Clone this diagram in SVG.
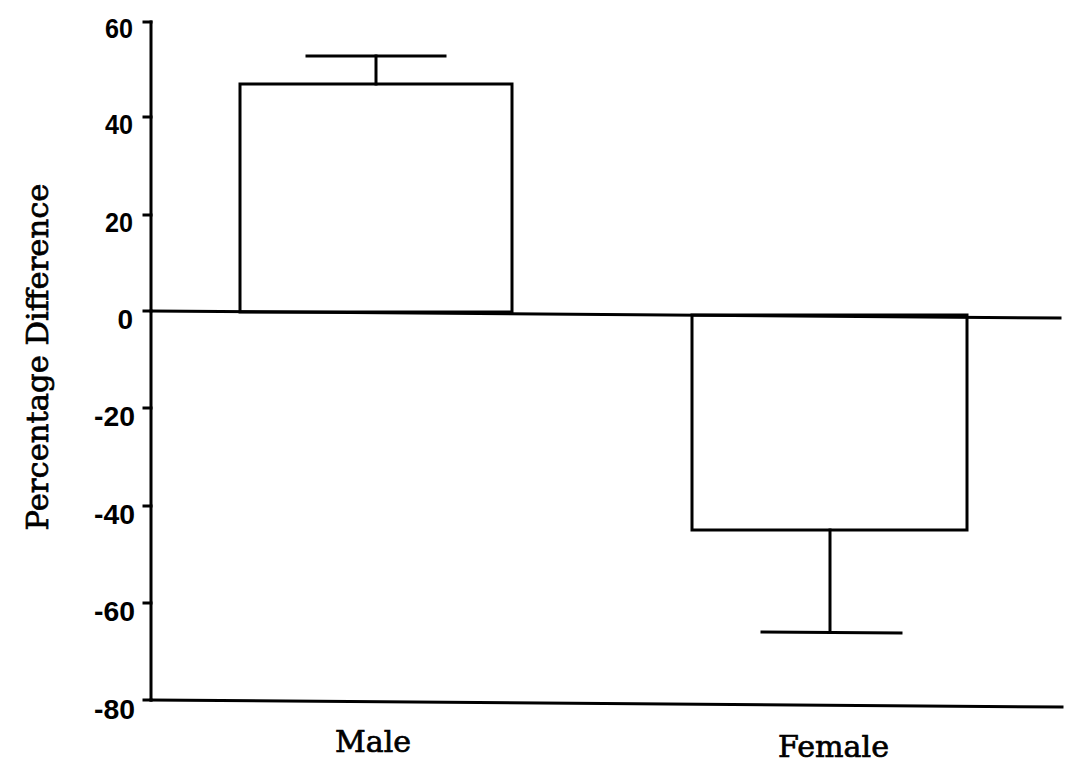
<svg xmlns="http://www.w3.org/2000/svg" width="1071" height="771" viewBox="0 0 1071 771">
<style>
.ln{stroke:#000;stroke-width:3;fill:none;stroke-linecap:square}
.bar{stroke:#000;stroke-width:3;fill:#fff}
.tk{font-family:"Liberation Sans",Arial,sans-serif;font-weight:bold;font-size:28px;fill:#000;text-anchor:end}
.lab{font-family:"DejaVu Serif","Liberation Serif",serif;font-size:30px;fill:#000;stroke:#000;stroke-width:0.7}
</style>
<rect width="1071" height="771" fill="#fff"/>
<g id="axes">
<line class="ln" x1="151" y1="22" x2="151" y2="700"/>
<line class="ln" x1="151" y1="700" x2="1062" y2="707"/>
<g id="ticks">
<line class="ln" x1="144" y1="22" x2="151" y2="22"/>
<line class="ln" x1="144" y1="117" x2="151" y2="117"/>
<line class="ln" x1="144" y1="215" x2="151" y2="215"/>
<line class="ln" x1="144" y1="311" x2="151" y2="311"/>
<line class="ln" x1="144" y1="408" x2="151" y2="408"/>
<line class="ln" x1="144" y1="506" x2="151" y2="506"/>
<line class="ln" x1="144" y1="603" x2="151" y2="603"/>
<line class="ln" x1="144" y1="700" x2="151" y2="700"/>
</g>
<g id="ticklabels">
<text class="tk" x="133" y="38" textLength="28" lengthAdjust="spacingAndGlyphs">60</text>
<text class="tk" x="133" y="134" textLength="28" lengthAdjust="spacingAndGlyphs">40</text>
<text class="tk" x="133" y="232" textLength="28" lengthAdjust="spacingAndGlyphs">20</text>
<text class="tk" x="133" y="329">0</text>
<text class="tk" x="135" y="426" textLength="41" lengthAdjust="spacingAndGlyphs">-20</text>
<text class="tk" x="135" y="524" textLength="41" lengthAdjust="spacingAndGlyphs">-40</text>
<text class="tk" x="135" y="621" textLength="41" lengthAdjust="spacingAndGlyphs">-60</text>
<text class="tk" x="135" y="719" textLength="41" lengthAdjust="spacingAndGlyphs">-80</text>
</g>
<text class="lab" transform="translate(48,357) rotate(-90)" text-anchor="middle" font-size="27" stroke-width="0.4" textLength="347" lengthAdjust="spacingAndGlyphs">Percentage Difference</text>
</g>
<g id="male">
<rect class="bar" x="240" y="84" width="272" height="228"/>
<line class="ln" x1="376" y1="84" x2="376" y2="56"/>
<line class="ln" x1="307" y1="56" x2="445" y2="56"/>
<text class="lab" x="335" y="752" textLength="76" lengthAdjust="spacingAndGlyphs">Male</text>
</g>
<g id="female">
<rect class="bar" x="692" y="315" width="275" height="215"/>
<line class="ln" x1="830" y1="530" x2="830" y2="632"/>
<line class="ln" x1="762" y1="632" x2="901" y2="633"/>
<text class="lab" x="778" y="757" textLength="111" lengthAdjust="spacingAndGlyphs">Female</text>
</g>
<g id="connectors">
<line class="ln" x1="151" y1="311" x2="1060" y2="318"/>
</g>
</svg>
